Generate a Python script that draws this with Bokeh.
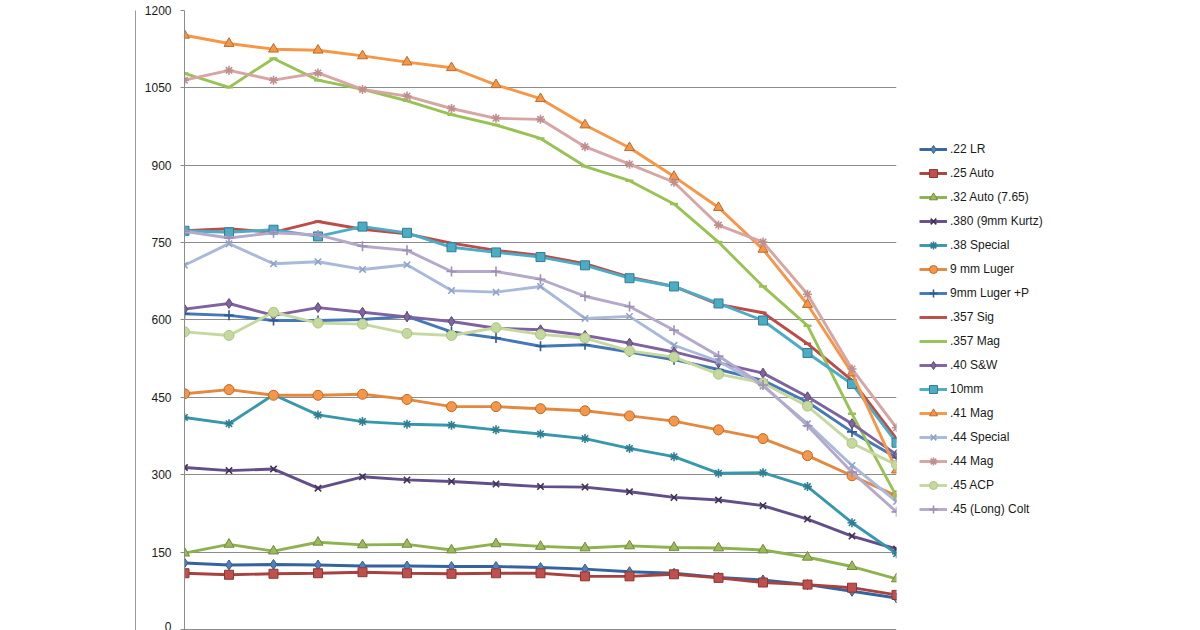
from bokeh.plotting import figure
from bokeh.models import Range1d, FixedTicker, Legend, LegendItem, LinearAxis
from bokeh.embed import file_html
from bokeh.resources import INLINE

points = list(range(1, 18))
y_ticks = [0, 150, 300, 450, 600, 750, 900, 1050, 1200]

series_names = [".22 LR", ".25 Auto", ".32 Auto (7.65)", ".380 (9mm Kurtz)", ".38 Special",
                "9 mm Luger", "9mm Luger +P", ".357 Sig", ".357 Mag", ".40 S&W", "10mm",
                ".41 Mag", ".44 Special", ".44 Mag", ".45 ACP", ".45 (Long) Colt"]

lr22 = [129, 125, 126, 125, 123, 123, 122, 122, 120, 117, 112, 109, 101, 96, 87, 74, 61]
auto25 = [109, 106, 108, 109, 111, 109, 108, 109, 109, 103, 103, 107, 100, 91, 87, 81, 67]
auto32 = [148, 165, 152, 169, 164, 165, 154, 166, 161, 158, 162, 159, 158, 154, 140, 122, 98]
kurtz380 = [314, 308, 311, 274, 296, 290, 287, 282, 277, 276, 267, 256, 251, 240, 214, 181, 156]
special38 = [411, 399, 455, 416, 403, 398, 396, 387, 379, 370, 351, 335, 303, 304, 277, 207, 147]
luger9 = [457, 465, 454, 454, 456, 446, 432, 432, 428, 424, 414, 404, 387, 370, 337, 298, 259]
luger9p = [612, 609, 599, 599, 601, 607, 577, 565, 549, 552, 538, 523, 504, 483, 441, 383, 333]
sig357 = [773, 777, 770, 791, 776, 767, 749, 735, 725, 709, 683, 665, 630, 614, 554, 483, 370]
mag357 = [1078, 1051, 1107, 1065, 1047, 1025, 998, 978, 952, 898, 870, 825, 751, 665, 589, 418, 258]
sw40 = [621, 632, 609, 624, 615, 606, 597, 584, 581, 570, 555, 538, 517, 497, 451, 399, 339]
mm10 = [773, 770, 775, 762, 781, 769, 741, 731, 722, 706, 681, 665, 632, 599, 536, 476, 362]
mag41 = [1152, 1136, 1125, 1123, 1112, 1100, 1089, 1056, 1029, 978, 934, 878, 818, 737, 630, 497, 309]
special44 = [706, 748, 709, 713, 698, 707, 657, 654, 665, 603, 607, 551, 520, 472, 399, 318, 248]
mag44 = [1065, 1084, 1065, 1079, 1047, 1034, 1010, 991, 989, 936, 902, 867, 784, 751, 650, 505, 391]
acp45 = [577, 570, 615, 594, 592, 574, 570, 585, 572, 565, 540, 528, 495, 478, 433, 361, 319]
colt45 = [772, 759, 769, 765, 743, 735, 694, 694, 679, 646, 626, 580, 530, 474, 395, 305, 228]

series_values = [lr22, auto25, auto32, kurtz380, special38, luger9, luger9p, sig357, mag357,
                 sw40, mm10, mag41, special44, mag44, acp45, colt45]

line_colors = ["#34649F", "#A8423F", "#8DB24F", "#634E8C", "#3797AD", "#E3893F", "#4478B8",
               "#BE4B48", "#99C255", "#7F62A2", "#4BACC6", "#F79646", "#A8B9D9", "#D6A5A4",
               "#C5D89E", "#B4A8CB"]
marker_fill = ["#4F81BD", "#C0504D", "#9BBB59", "#634E8C", "#3797AD", "#F79646", "#4478B8",
               "#BE4B48", "#99C255", "#8064A2", "#4BACC6", "#F79646", "#A8B9D9", "#D6A5A4",
               "#C5D89E", "#B4A8CB"]
marker_edge = ["#385D8A", "#8C3836", "#71893F", "#3F3151", "#2C7F93", "#B66D31", "#2C5A92",
               "#BE4B48", "#99C255", "#5C4776", "#357D91", "#B66D31", "#8FA3C9", "#C08E8D",
               "#AFC480", "#9C8FB8"]
markers = ["diamond", "square", "triangle", "x", "asterisk", "circle", "cross", "dash", "dash",
           "diamond", "square", "triangle", "x", "asterisk", "circle", "cross"]
marker_sizes = [10, 9, 10, 9, 9, 10, 10, 7, 8, 10, 9, 10, 9, 9, 10, 10]

FONT = "Liberation Sans"

p = figure(frame_width=712, frame_height=620, output_backend="svg", toolbar_location=None,
           x_range=Range1d(1, 17), y_range=Range1d(-2, 1200),
           x_axis_location=None,
           min_border_left=184, min_border_right=0, min_border_top=10, min_border_bottom=0)
p.outline_line_color = None
p.background_fill_color = "white"
p.border_fill_color = "white"
p.xgrid.visible = False
p.ygrid.ticker = FixedTicker(ticks=y_ticks)
p.ygrid.grid_line_color = "#8C8C8C"
p.ygrid.grid_line_width = 1
p.yaxis.ticker = FixedTicker(ticks=y_ticks)
p.yaxis.axis_line_color = "#8C8C8C"
p.yaxis.major_tick_line_color = "#8C8C8C"
p.yaxis.major_tick_out = 4
p.yaxis.major_tick_in = 0
p.yaxis.minor_tick_line_color = None
p.yaxis.major_label_standoff = 9
p.yaxis.major_label_text_font = FONT
p.yaxis.major_label_text_font_size = "12px"
p.yaxis.major_label_text_color = "#1a1a1a"

# spacer + outer chart-area border on the left (axes without visible ticks)
spacer_axis = LinearAxis(ticker=FixedTicker(ticks=[-1]), axis_line_color=None,
                         major_tick_out=6, major_tick_in=0, major_tick_line_color=None,
                         minor_tick_line_color=None, major_label_overrides={-1: ""},
                         major_label_text_font_size="1px", major_label_standoff=0)
border_axis = LinearAxis(ticker=FixedTicker(ticks=[]), axis_line_color="#9A9A9A",
                         major_tick_out=0, major_tick_in=0, minor_tick_line_color=None,
                         major_label_text_font_size="0px", major_label_standoff=0)
p.add_layout(spacer_axis, "left")
p.add_layout(border_axis, "left")

items = []
for name, vals, lc, mf, me, mk, ms in zip(series_names, series_values, line_colors,
                                          marker_fill, marker_edge, markers, marker_sizes):
    lr = p.line(points, vals, line_color=lc, line_width=2.9)
    if mk in ("x", "asterisk", "cross", "dash"):
        sr = p.scatter(points, vals, marker=mk, size=ms, line_color=me if mk != "dash" else lc,
                       line_width=1.6 if mk != "dash" else 2.5, fill_color=None)
    else:
        sr = p.scatter(points, vals, marker=mk, size=ms, fill_color=mf, line_color=me,
                       line_width=1)
    items.append(LegendItem(label=name, renderers=[lr, sr]))

legend = Legend(items=items, location=(23, 111), orientation="vertical",
                background_fill_alpha=0, border_line_color=None, padding=0, margin=0,
                label_text_font=FONT, label_text_font_size="12px", label_text_color="#1a1a1a",
                glyph_width=28, glyph_height=20, label_height=20, spacing=4, label_standoff=3)
p.add_layout(legend, "right")

open("out.html", "w").write(file_html(p, INLINE))
